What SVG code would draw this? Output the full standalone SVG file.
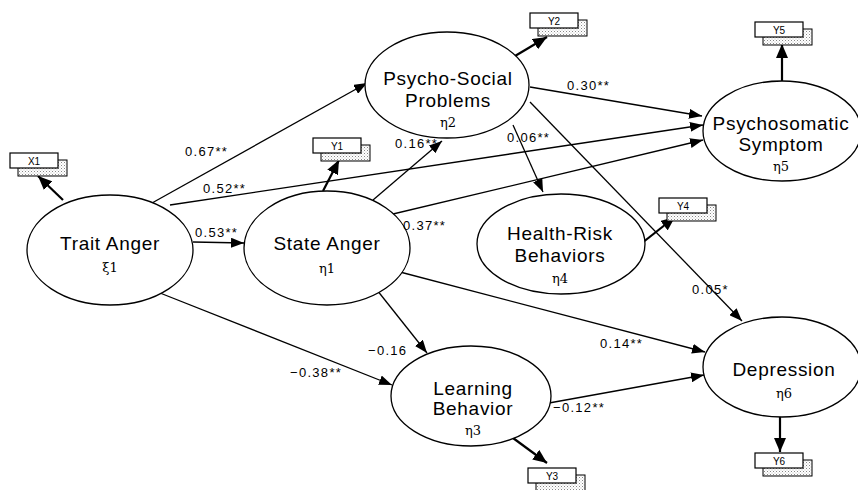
<svg xmlns="http://www.w3.org/2000/svg" width="858" height="490" viewBox="0 0 858 490">
<style>
.bg{fill:#fff}
.el{fill:#fff;stroke:#000;stroke-width:1.3}
.nm{font-family:"Liberation Sans",Arial,sans-serif;font-size:19px;letter-spacing:0.7px;text-anchor:middle;fill:#000}
.gk{font-family:"DejaVu Serif","Liberation Serif",serif;font-size:13px;text-anchor:middle;fill:#000}
.lb{font-family:"Liberation Sans",Arial,sans-serif;font-size:13px;letter-spacing:1.3px;fill:#000}
.cn{fill:none;stroke:#000;stroke-width:1.3;marker-end:url(#ah)}
.ind{fill:none;stroke:#000;stroke-width:2.2;marker-end:url(#ahb)}
.bx{fill:#fff;stroke:#000;stroke-width:1.2}
.sh{fill:url(#dots);stroke:#000;stroke-width:1}
.bt{font-family:"Liberation Sans",Arial,sans-serif;font-size:10px;text-anchor:middle;fill:#000}
</style>
<defs>
<marker id="ah" markerUnits="userSpaceOnUse" markerWidth="13" markerHeight="10" refX="13" refY="5" orient="auto">
<path d="M0,0 L13,5 L0,10 z" fill="#000"/>
</marker>
<marker id="ahb" markerUnits="userSpaceOnUse" markerWidth="14" markerHeight="12" refX="14" refY="6" orient="auto">
<path d="M0,0 L14,6 L0,12 z" fill="#000"/>
</marker>
<pattern id="dots" width="3" height="3" patternUnits="userSpaceOnUse">
<rect width="3" height="3" fill="#fff"/>
<rect x="0" y="0" width="1" height="1" fill="#888"/>
<rect x="1.5" y="1.5" width="1" height="1" fill="#bbb"/>
</pattern>
<g id="ibox">
<rect class="sh" x="8" y="7" width="49" height="16"/>
<rect class="bx" x="0" y="0" width="48" height="15"/>
</g>
</defs>
<rect class="bg" width="858" height="490"/>

<g id="connectors">
<line class="cn" x1="152" y1="203" x2="367" y2="83"/>
<line class="cn" x1="170" y1="205" x2="703" y2="125"/>
<line class="cn" x1="193" y1="242" x2="244" y2="243"/>
<line class="cn" x1="160" y1="293" x2="392" y2="385"/>
<line class="cn" x1="373" y1="200" x2="442" y2="141"/>
<line class="cn" x1="393" y1="214" x2="703" y2="140"/>
<line class="cn" x1="400" y1="272" x2="705" y2="352"/>
<line class="cn" x1="373" y1="285" x2="427" y2="353"/>
<line class="cn" x1="530" y1="87" x2="702" y2="116"/>
<line class="cn" x1="513" y1="125" x2="543" y2="192"/>
<line class="cn" x1="530" y1="102" x2="742" y2="321"/>
<line class="cn" x1="549" y1="403" x2="704" y2="375"/>
<line class="ind" x1="63" y1="200" x2="38" y2="176"/>
<line class="ind" x1="323" y1="191" x2="339" y2="160"/>
<line class="ind" x1="515" y1="56" x2="547" y2="37"/>
<line class="ind" x1="782" y1="82" x2="782" y2="44"/>
<line class="ind" x1="642" y1="243" x2="675" y2="217"/>
<line class="ind" x1="513" y1="438" x2="547" y2="463"/>
<line class="ind" x1="780" y1="417" x2="780" y2="452"/>
</g>

<g id="trait">
<ellipse class="el" cx="110" cy="250" rx="83" ry="55"/>
<text class="nm" x="110" y="250">Trait Anger</text>
<text class="gk" x="110" y="272">ξ1</text>
</g>
<g id="state">
<ellipse class="el" cx="327" cy="248" rx="83" ry="57"/>
<text class="nm" x="327" y="250">State Anger</text>
<text class="gk" x="327" y="273">η1</text>
</g>
<g id="psychosocial">
<ellipse class="el" cx="447" cy="85" rx="82" ry="53"/>
<text class="nm" x="448" y="85">Psycho-Social</text>
<text class="nm" x="448" y="107">Problems</text>
<text class="gk" x="448" y="127">η2</text>
</g>
<g id="psychosomatic">
<ellipse class="el" cx="782" cy="131" rx="79" ry="50"/>
<text class="nm" x="781" y="130">Psychosomatic</text>
<text class="nm" x="781" y="151">Symptom</text>
<text class="gk" x="781" y="171">η5</text>
</g>
<g id="health">
<ellipse class="el" cx="561" cy="244" rx="84" ry="50"/>
<text class="nm" x="560" y="240">Health-Risk</text>
<text class="nm" x="560" y="262">Behaviors</text>
<text class="gk" x="560" y="283">η4</text>
</g>
<g id="learning">
<ellipse class="el" cx="471" cy="396" rx="80" ry="50"/>
<text class="nm" x="473" y="395">Learning</text>
<text class="nm" x="473" y="415">Behavior</text>
<text class="gk" x="473" y="435">η3</text>
</g>
<g id="depression">
<ellipse class="el" cx="782" cy="367" rx="79" ry="50"/>
<text class="nm" x="784" y="376">Depression</text>
<text class="gk" x="784" y="398">η6</text>
</g>

<g id="x1"><use href="#ibox" x="10" y="153"/><text class="bt" x="34" y="164.5">X1</text></g>
<g id="y1"><use href="#ibox" x="313" y="138"/><text class="bt" x="337" y="149.5">Y1</text></g>
<g id="y2"><use href="#ibox" x="530" y="13"/><text class="bt" x="554" y="24.5">Y2</text></g>
<g id="y5"><use href="#ibox" x="755" y="22"/><text class="bt" x="779" y="33.5">Y5</text></g>
<g id="y4"><use href="#ibox" x="659" y="198"/><text class="bt" x="683" y="209.5">Y4</text></g>
<g id="y3"><use href="#ibox" x="528" y="468"/><text class="bt" x="552" y="479.5">Y3</text></g>
<g id="y6"><use href="#ibox" x="755" y="453"/><text class="bt" x="779" y="464.5">Y6</text></g>

<g id="labels">
<text class="lb" x="185" y="156">0.67**</text>
<text class="lb" x="203" y="193">0.52**</text>
<text class="lb" x="195" y="237">0.53**</text>
<text class="lb" x="395" y="148">0.16**</text>
<text class="lb" x="567" y="90">0.30**</text>
<text class="lb" x="507" y="142">0.06**</text>
<text class="lb" x="403" y="230">0.37**</text>
<text class="lb" x="600" y="348">0.14**</text>
<text class="lb" x="368" y="355">−0.16</text>
<text class="lb" x="290" y="377">−0.38**</text>
<text class="lb" x="553" y="412">−0.12**</text>
<text class="lb" x="692" y="294">0.05*</text>
</g>
</svg>
